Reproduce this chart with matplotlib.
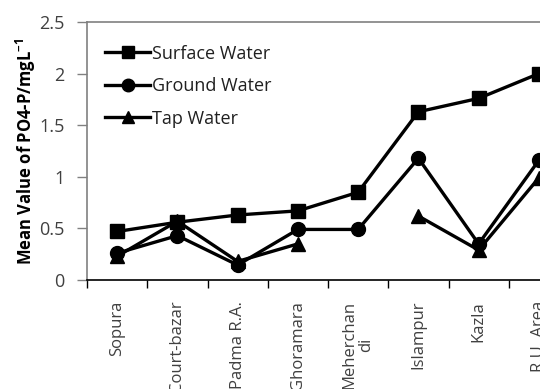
import numpy as np
import matplotlib
matplotlib.use("Agg")
import matplotlib.pyplot as plt
from matplotlib.lines import Line2D

plt.rcParams['font.family'] = ['Open Sans', 'DejaVu Sans']
plt.rcParams['mathtext.fontset'] = 'custom'
plt.rcParams['mathtext.rm'] = 'Open Sans'
plt.rcParams['mathtext.bf'] = 'Open Sans:bold'

sites = ["Sopura", "Court-bazar", "Padma R.A.", "Ghoramara", "Meherchan\ndi",
         "Islampur", "Kazla", "R.U. Area"]
surface_water = [0.47, 0.56, 0.63, 0.67, 0.85, 1.63, 1.76, 2.00]
ground_water = [0.26, 0.43, 0.145, 0.49, 0.49, 1.18, 0.35, 1.16]
tap_water = [0.23, 0.57, 0.18, 0.35, np.nan, 0.62, 0.29, 0.99]

fig = plt.figure(figsize=(5.40, 3.89), dpi=100)
ax = fig.add_axes([87 / 540, 1 - 280 / 389, 482 / 540, 258 / 389])

x = np.arange(len(sites))
common = dict(color="black", lw=2.4, markersize=10, clip_on=False)
ax.plot(x, surface_water, marker="s", label="Surface Water", **common)
ax.plot(x, ground_water, marker="o", label="Ground Water", **common)
ax.plot(x, tap_water, marker="^", label="Tap Water", **common)

ax.set_xlim(-0.5, len(sites) - 0.5)
ax.set_ylim(0, 2.5)
ax.set_yticks([0, 0.5, 1, 1.5, 2, 2.5])
ax.set_yticklabels(["0", "0.5", "1", "1.5", "2", "2.5"])

ax.set_xticks(x)
ax.set_xticklabels(sites, rotation=90, va="top", ha="center", linespacing=1.05)
ax.set_xticks(np.arange(-0.5, len(sites)), minor=True)
ax.tick_params(axis="x", which="major", length=0, pad=15, labelsize=12,
               labelcolor="#404040")
ax.tick_params(axis="x", which="minor", length=6, width=1, color="black",
               direction="out")
ax.tick_params(axis="y", length=7, width=1, color="#808080", direction="out",
               labelsize=13, labelcolor="#404040", pad=9)

for side in ("top", "left", "right"):
    ax.spines[side].set_color("#808080")
    ax.spines[side].set_linewidth(1.2)
ax.spines["bottom"].set_color("black")
ax.spines["bottom"].set_linewidth(1.2)

ax.set_ylabel(r"Mean Value of PO4-P/mgL$^{\mathbf{-1}}$", fontsize=12,
              fontweight="bold", labelpad=1)

handles = [Line2D([], [], color="black", lw=2.4, marker=m, markersize=9)
           for m in ("s", "o", "^")]
leg = ax.legend(handles, ["Surface Water", "Ground Water", "Tap Water"],
                loc="upper left", bbox_to_anchor=(18 / 482, 0.912), frameon=False,
                fontsize=13, handlelength=2.5, handletextpad=0.1,
                labelspacing=0.8, borderaxespad=0.0, borderpad=0.0)
for t in leg.get_texts():
    t.set_color("#202020")

fig.savefig("out.png", dpi=100)
